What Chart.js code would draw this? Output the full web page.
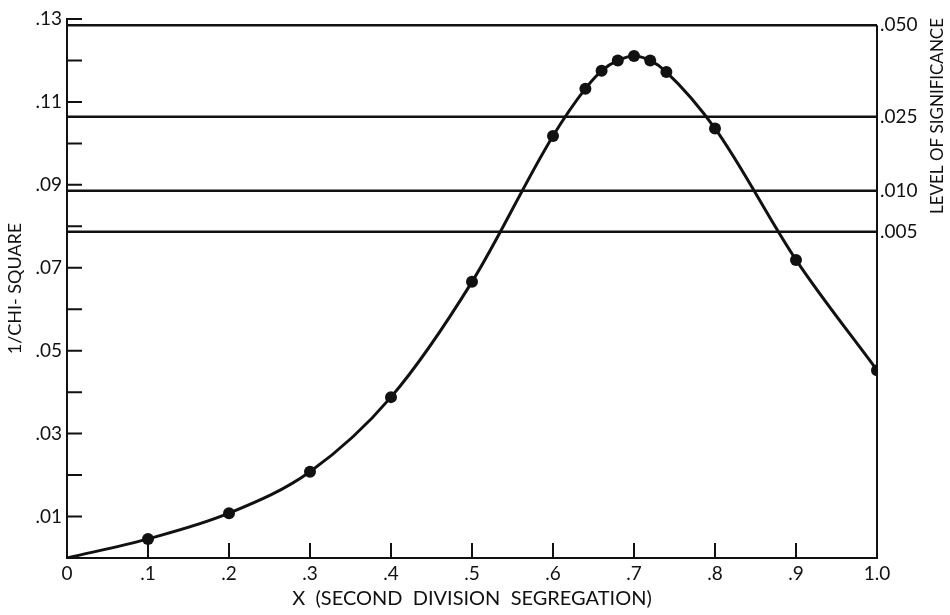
<!DOCTYPE html>
<html lang="en">
<head>
    <meta charset="UTF-8">
    <title>1/Chi-square vs X</title>
    <script src="https://cdn.jsdelivr.net/npm/chart.js"></script>
    <style>
        body {
            margin: 0;
            padding: 0;
            background-color: white;
        }
        .container {
            width: 950px;
            height: 615px;
            position: relative;
        }
    </style>
</head>
<body>

<div class="container">
    <canvas id="grafico"></canvas>
</div>

<script>
    // Datos
    const xValues = [0, 0.1, 0.2, 0.3, 0.4, 0.5, 0.6, 0.64, 0.66, 0.68, 0.70, 0.72, 0.74, 0.8, 0.9, 1.0];
    const chiValues = [0, 0.0046, 0.0108, 0.0208, 0.0388, 0.0666, 0.1018, 0.1132, 0.1175, 0.1200, 0.1211, 0.1200, 0.1172, 0.1036, 0.0719, 0.0453];
    const sigValues = [0.1285, 0.1064, 0.0886, 0.0787];
    const sigLabels = ['.050', '.025', '.010', '.005'];
    const xTickLabels = ['0', '.1', '.2', '.3', '.4', '.5', '.6', '.7', '.8', '.9', '1.0'];
    const yTickLabels = ['', '.01', '', '.03', '', '.05', '', '.07', '', '.09', '', '.11', '', '.13'];

    const fuente = 'Lato, "Open Sans", sans-serif';
    const negro = '#111';

    // curve points: first one (origin) has no dot
    const curva = xValues.map((x, i) => ({x: x, y: chiValues[i]}));
    const radios = xValues.map((x, i) => i === 0 ? 0 : 6);

    const lineas = sigValues.map(v => ({
        type: 'line',
        data: [{x: 0, y: v}, {x: 1, y: v}],
        borderColor: negro,
        borderWidth: 2.5,
        pointRadius: 0,
        yAxisID: 'y'
    }));

    // ticks hacia dentro + titulo derecho
    const extras = {
        id: 'extras',
        afterDatasetsDraw(chart) {
            const ctx = chart.ctx;
            const xs = chart.scales.x;
            const ys = chart.scales.y;
            const y2 = chart.scales.y2;
            ctx.save();
            ctx.strokeStyle = negro;
            ctx.lineWidth = 2;
            ctx.beginPath();
            xs.ticks.forEach(t => {
                const px = xs.getPixelForValue(t.value);
                ctx.moveTo(px, ys.bottom);
                ctx.lineTo(px, ys.bottom - 15);
            });
            ys.ticks.forEach(t => {
                if (t.value <= 0) return;
                const py = ys.getPixelForValue(t.value);
                ctx.moveTo(xs.left, py);
                ctx.lineTo(xs.left + 15, py);
            });
            // eje derecho, desde la linea .050 hasta abajo
            ctx.moveTo(xs.right, y2.getPixelForValue(sigValues[0]));
            ctx.lineTo(xs.right, ys.bottom);
            ctx.stroke();

            ctx.fillStyle = negro;
            ctx.font = '17px ' + fuente;
            ctx.textAlign = 'center';
            ctx.textBaseline = 'middle';
            ctx.translate(938, 116);
            ctx.rotate(-Math.PI / 2);
            ctx.fillText('LEVEL OF SIGNIFICANCE', 0, 0);
            ctx.restore();
        }
    };

    const sinRejilla = {display: false, drawTicks: false, tickLength: 0};

    new Chart(document.getElementById('grafico'), {
        type: 'scatter',
        data: {
            datasets: [{
                type: 'line',
                data: curva,
                borderColor: negro,
                backgroundColor: negro,
                borderWidth: 3,
                pointRadius: radios,
                pointBackgroundColor: negro,
                pointBorderWidth: 0,
                cubicInterpolationMode: 'monotone',
                yAxisID: 'y'
            }, ...lineas]
        },
        options: {
            responsive: true,
            maintainAspectRatio: false,
            animation: false,
            layout: {padding: {top: 19, left: 0, right: 0, bottom: 0}},
            plugins: {
                legend: {display: false},
                tooltip: {enabled: false}
            },
            scales: {
                x: {
                    type: 'linear',
                    min: 0,
                    max: 1,
                    grid: sinRejilla,
                    border: {display: true, color: negro, width: 2},
                    ticks: {
                        stepSize: 0.1,
                        color: negro,
                        padding: 4,
                        maxRotation: 0,
                        font: {family: fuente, size: 19},
                        callback: (v, i) => xTickLabels[i]
                    },
                    title: {
                        display: true,
                        text: 'X  (SECOND  DIVISION  SEGREGATION)',
                        color: negro,
                        font: {family: fuente, size: 20},
                        padding: {top: 0, bottom: 4}
                    },
                    afterFit(scale) { scale.height = 57; }
                },
                y: {
                    type: 'linear',
                    position: 'left',
                    min: 0,
                    max: 0.13,
                    grid: sinRejilla,
                    border: {display: true, color: negro, width: 2},
                    ticks: {
                        stepSize: 0.01,
                        autoSkip: false,
                        color: negro,
                        padding: 5,
                        font: {family: fuente, size: 19},
                        callback: (v, i) => yTickLabels[i]
                    },
                    title: {
                        display: true,
                        text: '1/CHI- SQUARE',
                        color: negro,
                        font: {family: fuente, size: 18},
                        padding: {top: 4, bottom: 0}
                    },
                    afterFit(scale) { scale.width = 67; }
                },
                y2: {
                    type: 'linear',
                    position: 'right',
                    min: 0,
                    max: 0.13,
                    grid: sinRejilla,
                    border: {display: false},
                    afterBuildTicks(scale) {
                        scale.ticks = sigValues.map(v => ({value: v}));
                    },
                    ticks: {
                        color: negro,
                        padding: 3,
                        font: {family: fuente, size: 19},
                        callback: (v, i) => sigLabels[i]
                    },
                    afterFit(scale) { scale.width = 73; }
                }
            }
        },
        plugins: [extras]
    });
</script>

</body>
</html>
